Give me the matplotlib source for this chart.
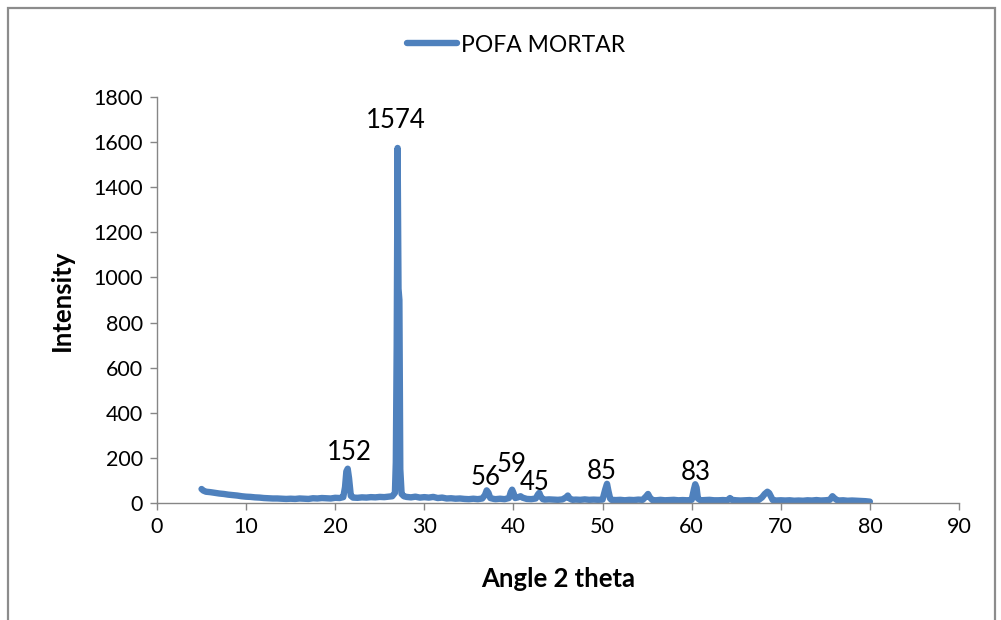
import matplotlib
matplotlib.use("Agg")
import matplotlib.pyplot as plt
from matplotlib.patches import Rectangle

# ---- data ----
angle = [5.0, 5.2, 5.5, 6.0, 6.5, 7.0, 7.5, 8.0, 8.5, 9.0, 9.5, 10.0, 10.5, 11.0, 11.5,
         12.0, 12.5, 13.0, 13.5, 14.0, 14.5, 15.0, 15.5, 16.0, 16.5, 17.0, 17.5, 18.0,
         18.5, 19.0, 19.5, 20.0, 20.5, 20.9, 21.1, 21.25, 21.4, 21.55, 21.75, 22.0, 22.5,
         23.0, 23.5, 24.0, 24.5, 25.0, 25.5, 26.0, 26.4, 26.7, 26.8, 26.9, 27.0, 27.1,
         27.2, 27.3, 27.45, 27.7, 28.0, 28.5, 29.0, 29.5, 30.0, 30.5, 31.0, 31.5, 32.0,
         32.5, 33.0, 33.5, 34.0, 34.5, 35.0, 35.5, 36.0, 36.5, 36.8, 37.0, 37.2, 37.4,
         37.8, 38.0, 38.5, 39.0, 39.5, 39.7, 39.85, 40.0, 40.2, 40.5, 40.8, 41.0, 41.5,
         42.0, 42.5, 42.75, 42.9, 43.05, 43.3, 43.5, 44.0, 44.5, 45.0, 45.5, 45.9, 46.1,
         46.3, 46.6, 47.0, 47.5, 48.0, 48.5, 49.0, 49.5, 50.0, 50.3, 50.5, 50.65, 50.85,
         51.0, 51.5, 52.0, 52.5, 53.0, 53.5, 54.0, 54.5, 54.9, 55.1, 55.3, 55.6, 56.0,
         56.5, 57.0, 57.5, 58.0, 58.5, 59.0, 59.5, 60.0, 60.25, 60.4, 60.55, 60.7, 61.0,
         61.5, 62.0, 62.5, 63.0, 63.5, 64.0, 64.3, 64.5, 65.0, 65.5, 66.0, 66.5, 67.0,
         67.5, 67.9, 68.2, 68.5, 68.7, 68.9, 69.1, 69.5, 70.0, 70.5, 71.0, 71.5, 72.0,
         72.5, 73.0, 73.5, 74.0, 74.5, 75.0, 75.5, 75.8, 76.0, 76.3, 76.5, 77.0, 77.5,
         78.0, 78.5, 79.0, 79.5, 80.0]
intensity = [62, 55, 50, 48, 45, 42, 40, 37, 35, 33, 30, 28, 27, 25, 24,
             22, 21, 20, 20, 19, 18, 19, 18, 20, 19, 18, 21, 20,
             22, 21, 20, 23, 22, 26, 70, 140, 152, 110, 32, 24, 23,
             25, 24, 26, 25, 27, 26, 28, 30, 45, 180, 700, 1574, 950,
             900, 150, 40, 30, 27, 25, 28, 24, 26, 24, 27, 22, 24,
             20, 21, 19, 20, 18, 17, 19, 17, 20, 35, 56, 45, 22,
             18, 17, 19, 17, 22, 48, 59, 45, 22, 25, 30, 24, 18,
             17, 20, 38, 45, 30, 17, 15, 16, 15, 14, 16, 25, 33,
             20, 14, 15, 14, 16, 14, 15, 14, 15, 60, 85, 55, 20,
             14, 13, 14, 12, 14, 13, 15, 14, 30, 40, 25, 13, 12,
             14, 12, 13, 14, 12, 13, 12, 14, 60, 83, 68, 20, 12,
             13, 14, 12, 12, 13, 12, 22, 14, 12, 11, 12, 13, 11,
             13, 25, 40, 50, 44, 28, 13, 11, 12, 11, 12, 10, 11,
             10, 12, 11, 13, 11, 12, 14, 30, 22, 13, 11, 12, 10,
             11, 10, 9, 8, 6]
series_name = "POFA MORTAR"
label_angles = [21.4, 27.0, 37.0, 39.85, 42.9, 50.5, 60.4]
x_ticks = [0, 10, 20, 30, 40, 50, 60, 70, 80, 90]
y_ticks = [0, 200, 400, 600, 800, 1000, 1200, 1400, 1600, 1800]

# label placement offsets (pixels) -- styling only
label_dx = [2, -2, -1, -1, -5, -5, 1]
label_dy = [16, 27, 13, 25, 10, 12, 12]

plt.rcParams['font.family'] = ['Lato', 'DejaVu Sans']

W, H = 1001, 620
fig = plt.figure(figsize=(W / 100, H / 100), dpi=100)
fig.patch.set_facecolor('white')

# outer chart frame
fig.patches.append(Rectangle((8 / W, -0.05), (995 - 8) / W, 1.05 - 8 / H,
                             transform=fig.transFigure, fill=False,
                             edgecolor='#8c8c8c', linewidth=1.6))

ax = fig.add_axes([157 / W, 1 - 503 / H, (959 - 157) / W, (503 - 97) / H])
line_color = '#4F81BD'
ax.plot(angle, intensity, color=line_color, linewidth=4.6,
        solid_joinstyle='round', solid_capstyle='round', label=series_name)

ax.set_xlim(0, 90)
ax.set_ylim(0, 1800)
ax.set_xticks(x_ticks)
ax.set_yticks(y_ticks)

for s in ['top', 'right']:
    ax.spines[s].set_visible(False)
for s in ['left', 'bottom']:
    ax.spines[s].set_color('#868686')
    ax.spines[s].set_linewidth(1.0)
ax.tick_params(axis='both', direction='out', length=5, width=1.0,
               color='#868686', labelsize=15.5, labelcolor='black', pad=5)

ax.set_xlabel('Angle 2 theta', fontsize=18.5, fontweight='bold', labelpad=22)
ax.set_ylabel('Intensity', fontsize=18.5, fontweight='bold', labelpad=14)

# data labels on the peaks
for a, dx, dy in zip(label_angles, label_dx, label_dy):
    i = angle.index(a)
    ax.annotate(str(intensity[i]), (angle[i], intensity[i]), xytext=(dx, dy),
                textcoords='offset pixels', ha='center', va='center',
                fontsize=18.5, color='black')

leg = fig.legend(loc='center', bbox_to_anchor=(516 / W, 1 - 45 / H),
                 frameon=False, fontsize=16.5, handlelength=2.2,
                 handletextpad=0.15)
for lh in leg.get_lines():
    lh.set_linewidth(4.6)

fig.savefig('out.png', dpi=100)
